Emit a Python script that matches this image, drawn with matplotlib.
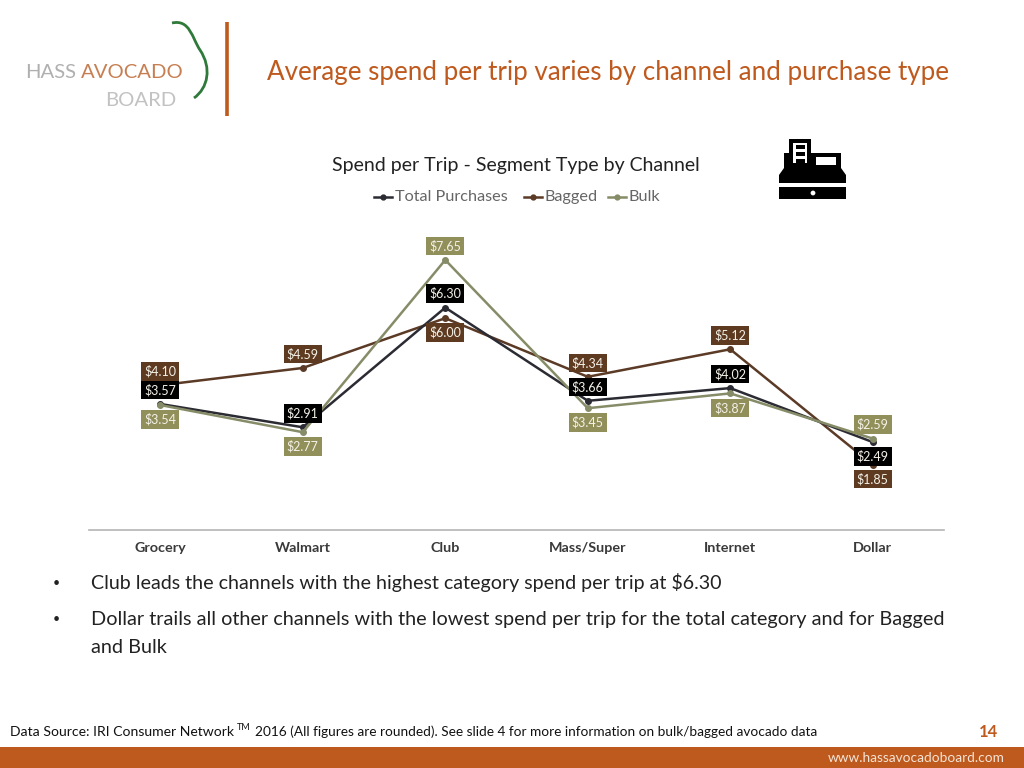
import matplotlib
matplotlib.use("Agg")
import matplotlib.pyplot as plt
from matplotlib.path import Path
from matplotlib.patches import PathPatch, Rectangle, Circle, Polygon

plt.rcParams.update({"font.family": ["Lato", "DejaVu Sans"]})

channels = ["Grocery", "Walmart", "Club", "Mass/Super", "Internet", "Dollar"]
total = [3.57, 2.91, 6.30, 3.66, 4.02, 2.49]
bagged = [4.10, 4.59, 6.00, 4.34, 5.12, 1.85]
bulk = [3.54, 2.77, 7.65, 3.45, 3.87, 2.59]
names = ["Total Purchases", "Bagged", "Bulk"]

ORANGE = "#BF5A1E"
W, H = 1024, 768
fig = plt.figure(figsize=(W / 100, H / 100), dpi=100, facecolor="white")

# page furniture, in pixel coords
bg = fig.add_axes([0, 0, 1, 1])
bg.set_xlim(0, W); bg.set_ylim(H, 0); bg.axis("off")

# logo
bg.text(25, 73, "HASS", fontsize=14.6, color="#b0b0b0", va="center", ha="left")
bg.text(81, 73, "AVOCADO", fontsize=14.6, color="#c77f52", va="center", ha="left")
bg.text(105, 100, "BOARD", fontsize=14.6, color="#c2c2c2", va="center", ha="left")
leaf = Path([(172, 23), (190, 19), (192, 38), (200, 50), (212, 68), (208, 88), (194, 98)],
            [Path.MOVETO, Path.CURVE4, Path.CURVE4, Path.CURVE4, Path.CURVE4, Path.CURVE4, Path.CURVE4])
bg.add_patch(PathPatch(leaf, fc="none", ec="#2f7a3a", lw=2))
bg.plot([226.5, 226.5], [22, 116], color=ORANGE, lw=2.6, solid_capstyle="butt")

bg.text(267, 72.5, "Average spend per trip varies by channel and purchase type",
        fontsize=18.75, color=ORANGE, va="center", ha="left")

# chart title
bg.text(516, 165, "Spend per Trip - Segment Type by Channel", fontsize=14, color="#222222",
        va="center", ha="center")

# cash register icon
bg.add_patch(Rectangle((779, 187), 67, 12, fc="black", ec="none"))
bg.add_patch(Circle((813, 193), 2.4, fc="white", ec="none"))
bg.add_patch(Polygon([(779, 183), (779, 175), (784, 168), (784, 153), (789, 153), (789, 139), (811, 139),
                      (811, 153), (841, 153), (841, 168), (846, 175), (846, 183)], fc="black", ec="none"))
bg.add_patch(Rectangle((793, 143), 14, 20, fc="white", ec="none"))
for yy in (145, 152, 159):
    bg.add_patch(Rectangle((796, yy), 9, 3.5, fc="black", ec="none"))
bg.add_patch(Rectangle((816, 157), 20, 8, fc="white", ec="none"))

# bullets
tcol = "#222222"
bg.text(53, 583, "•", fontsize=9, color=tcol, va="center")
bg.text(91, 583, "Club leads the channels with the highest category spend per trip at $6.30",
        fontsize=14.15, color=tcol, va="center", parse_math=False)
bg.text(53, 619, "•", fontsize=9, color=tcol, va="center")
bg.text(91, 619.5, "Dollar trails all other channels with the lowest spend per trip for the total category and for Bagged",
        fontsize=14.32, color=tcol, va="center")
bg.text(91, 647.5, "and Bulk", fontsize=14.32, color=tcol, va="center")

# source line
bg.text(10, 732, "Data Source: IRI Consumer Network", fontsize=10.05, color="#111111", va="center")
bg.text(237, 727, "TM", fontsize=6.5, color="#111111", va="center")
bg.text(255, 732, "2016 (All figures are rounded). See slide 4 for more information on bulk/bagged avocado data",
        fontsize=9.85, color="#111111", va="center")
bg.text(988, 732, "14", fontsize=12, color=ORANGE, va="center", ha="center", fontweight="bold")
bg.add_patch(Rectangle((0, 747), W, 21, fc=ORANGE, ec="none"))
bg.text(1005, 758, "www.hassavocadoboard.com", fontsize=9.8, color="#f4e4d6", va="center", ha="right")

# the chart itself, zero sits on the grey baseline
ax = fig.add_axes([89 / W, 1 - 530 / H, 855 / W, 300 / H])
ax.patch.set_alpha(0)
ax.set_xlim(-0.5, 5.5); ax.set_ylim(0, 300 / 35.3)
for s in ("top", "left", "right"):
    ax.spines[s].set_visible(False)
ax.spines["bottom"].set_color("#b5b5b5")
ax.spines["bottom"].set_linewidth(1.2)
ax.set_yticks([])
ax.set_xticks(range(6))
ax.set_xticklabels(channels, fontsize=10.4, fontweight="bold", color="#3a3a3a")
ax.tick_params(axis="x", length=0, pad=9)

styles = [(total, "#2b2b33", "black", [1, 1, 1, 1, 1, -1]),
          (bagged, "#5b3a26", "#5e3a20", [1, 1, -1, 1, 1, -1]),
          (bulk, "#878c68", "#918f5a", [-1, -1, 1, -1, -1, 1])]
z = {0: 3, 1: 2, 2: 4}
for i, (vals, lc, box, side) in enumerate(styles):
    ax.plot(range(6), vals, color=lc, lw=1.8, marker="o", ms=4, zorder=z[i])
    for x, (v, s) in enumerate(zip(vals, side)):
        ax.annotate("$%.2f" % v, (x, v), xytext=(0, s * 10.2 - 0.2), textcoords="offset points",
                    ha="center", va="center", fontsize=9, color="#f4f1e8", zorder=6,
                    parse_math=False,
                    bbox=dict(boxstyle="square,pad=0.24", fc=box, ec="none"))

# legend drawn by hand so it sits tight like the slide
lx = [374, 524, 608]
for n, x0, (vals, lc, box, side) in zip(names, lx, styles):
    bg.plot([x0, x0 + 18], [197, 197], color=lc, lw=1.8)
    bg.plot([x0 + 9], [197], color=lc, marker="o", ms=3.5)
    bg.text(x0 + 21, 197, n, fontsize=11.7, color="#666666", va="center", ha="left")

fig.savefig("out.png", dpi=100)
